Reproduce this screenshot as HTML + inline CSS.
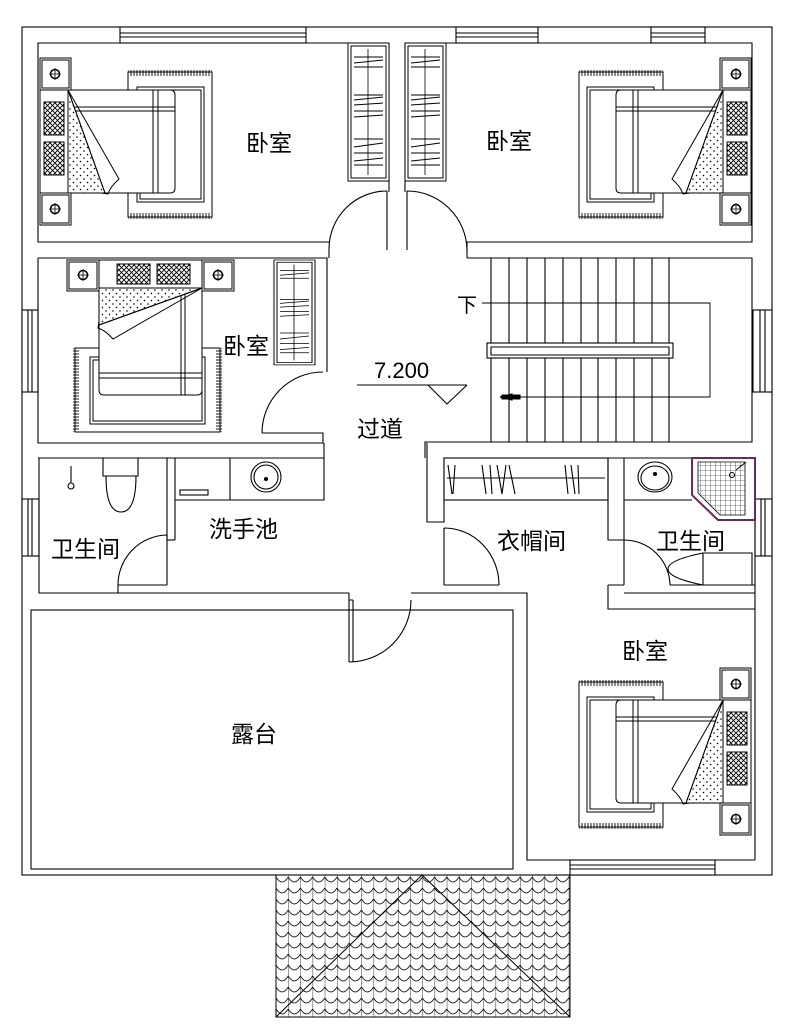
<!DOCTYPE html>
<html><head><meta charset="utf-8"><style>
html,body{margin:0;padding:0;background:#fff;}
svg{display:block;}
text{font-family:"Liberation Sans","Noto Sans CJK SC",sans-serif;fill:#000;}
</style></head><body>
<svg width="789" height="1035" viewBox="0 0 789 1035" xmlns="http://www.w3.org/2000/svg">
<defs>
<pattern id="hatch" width="5" height="5" patternUnits="userSpaceOnUse">
<rect width="5" height="5" fill="#fff"/><path d="M0,0L5,5M5,0L0,5" stroke="#000" stroke-width="0.9"/>
</pattern>
<pattern id="dots" width="7" height="7" patternUnits="userSpaceOnUse">
<circle cx="2" cy="2" r="0.8" fill="#000"/><circle cx="5.5" cy="5.5" r="0.8" fill="#000"/>
</pattern>
<pattern id="fringe" width="3" height="6" patternUnits="userSpaceOnUse">
<path d="M1,0V6" stroke="#000" stroke-width="0.9"/>
</pattern>
<pattern id="tiles" x="276" y="875" width="12.2" height="11" patternUnits="userSpaceOnUse">
<path d="M0,0V11M0,2Q6.1,12 12.2,2" stroke="#000" stroke-width="0.8" fill="none"/>
</pattern>
<pattern id="grid" width="5" height="5" patternUnits="userSpaceOnUse">
<path d="M0,0H5M0,0V5" stroke="#000" stroke-width="0.6"/>
</pattern>
<g id="ns">
<rect x="0" y="0" width="31" height="32" fill="#fff" stroke="#000"/>
<rect x="2" y="2" width="27" height="28" fill="none" stroke="#000"/>
<circle cx="15" cy="16" r="4.5" fill="none" stroke="#000" stroke-width="1.5"/>
<path d="M9,16H21M15,10V22" stroke="#000" stroke-width="0.8"/>
</g>
<g id="bed" stroke="#000" fill="none" stroke-width="1">
<rect x="88" y="14" width="84" height="145" fill="#fff"/>
<rect x="88" y="12" width="84" height="6" fill="url(#fringe)" stroke="none"/>
<rect x="88" y="155" width="84" height="6" fill="url(#fringe)" stroke="none"/>
<rect x="97" y="29" width="67" height="115"/>
<rect x="100" y="32" width="61" height="109"/>
<path d="M28,32H130Q135,32 135,37V130Q135,135 130,135H28Z" fill="#fff"/>
<path d="M28,49H135M28,53H135M113,32V135M118,32V135"/>
<path d="M28,32L65,135H28Z" fill="#fff"/>
<path d="M28,32L65,135H28Z" fill="url(#dots)" stroke="none"/>
<path d="M28,32L79,121Q70,129 68,136L61,135"/>
<path d="M28,32L65,135"/>
<use href="#ns"/>
<use href="#ns" y="135"/>
<rect x="0" y="32" width="28" height="103" fill="#fff"/>
<rect x="4" y="44" width="20" height="33" fill="url(#hatch)"/>
<rect x="4" y="84" width="20" height="33" fill="url(#hatch)"/>
</g>
<g id="ward" stroke="#000" fill="none">
<rect x="0" y="0" width="41" height="138" fill="#fff"/>
<rect x="3" y="3" width="35" height="132"/>
<path d="M20,6V132" stroke-width="0.8"/>
<path d="M6,14H35M6,20L35,17M6,24H35M6,52H35M6,57L35,54M6,62L35,60M6,68H35M6,74L35,72M6,96H35M6,104L35,100M6,110H35M6,118L35,115M6,122H35"/>
</g>
</defs>

<g stroke="#000" stroke-width="1.1" fill="none">
<rect x="22" y="27" width="750" height="848"/>
<rect x="120" y="27" width="186" height="16" fill="#fff"/><path d="M120,33H306M120,37H306"/>
<rect x="456" y="27" width="82" height="16" fill="#fff"/><path d="M456,33H538M456,37H538"/>
<rect x="651" y="27" width="54" height="16" fill="#fff"/><path d="M651,33H705M651,37H705"/>
<rect x="22" y="310" width="16" height="82" fill="#fff"/><path d="M28,310V392M32,310V392"/>
<rect x="753" y="310" width="19" height="82" fill="#fff"/><path d="M760,310V392M765,310V392"/>
<rect x="22" y="499" width="17" height="57" fill="#fff"/><path d="M28,499V556M32,499V556"/>
<rect x="755" y="499" width="17" height="57" fill="#fff"/><path d="M761,499V556M765,499V556"/>
<rect x="570" y="860" width="145" height="15" fill="#fff"/><path d="M570,865H715M570,869H715"/>

<path d="M389,43H38V242H329"/>
<path d="M38,258H327V372"/>
<path d="M389,43V192M405,43V192"/>
<path d="M387,191V250M387,191A58,58 0 0 0 329,249M329,249V258"/>
<path d="M405,43H752V242H467V258"/>
<path d="M407,191V250M407,191A60,60 0 0 1 467,250"/>
<path d="M38,258V443H323V433H262"/>
<path d="M323,372A61,61 0 0 0 262,433"/>
<path d="M38,258H315"/>
<path d="M467,258H752V442H425V458"/>
<path d="M491,258V442M509,258V343M527,258V343M545,258V343M563,258V343M581,258V343M598,258V343M616,258V343M634,258V343M652,258V343M669,258V343"/>
<path d="M509,358V442M527,358V442M545,358V442M563,358V442M581,358V442M598,358V442M616,358V442M634,358V442M652,358V442M669,358V442"/>
<rect x="487" y="343" width="186" height="15" fill="#fff"/>
<path d="M491,347H669V355H491Z"/>
<path d="M482,303H710V397H500" stroke-width="0.9"/>
<path d="M500,397L512,394V400Z" fill="#000"/><path d="M502,395H520V399H502Z" fill="#000"/>
<path d="M357,385H467M428,385L447,404L467,385"/>
<path d="M38,458H324V443"/>
<path d="M39,458V593H349"/>
<path d="M167,458V540M167,585H118V593"/>
<path d="M167,535V585M167,535A50,50 0 0 0 118,585"/>
<path d="M175,458V540"/>
<path d="M175,458H324V500H175"/>
<path d="M175,540H167"/>
<rect x="180" y="490" width="28" height="5"/>
<path d="M230,458V500"/>
<circle cx="266" cy="477" r="15"/><circle cx="266" cy="477" r="12"/>
<circle cx="266" cy="479" r="1.5" fill="#000"/>
<path d="M103,458V476H138V458"/>
<path d="M106,476Q106,512 121,512Q136,512 136,476Z"/>
<circle cx="71" cy="486" r="3"/><path d="M71,466V483"/>
<path d="M349,593V662M353,600V662M349,600H353"/>
<path d="M349,662A62,62 0 0 0 411,600"/>
<path d="M411,593H527V860H755"/>
<rect x="31" y="610" width="482" height="259"/>
<path d="M427,443V522H444V458H755"/>
<path d="M444,528V585M444,528A55,57 0 0 1 499,585M444,585H499"/>
<rect x="444" y="458" width="164" height="42" fill="#fff"/>
<path d="M447,478H605"/>
<path d="M448,465L452,494M455,465L453,494M482,465L486,494M490,465L492,494M497,465L502,494M506,465L502,494M509,465L515,494M565,465L568,494M571,465L575,494M578,465L579,494"/>
<path d="M608,458V540H624V458"/>
<path d="M624,540V585M624,540A46,46 0 0 1 670,585"/>
<path d="M608,585V609H755M608,585H624M670,585H755M624,593H755M755,458V860"/>
<path d="M624,500H692"/>
<ellipse cx="655" cy="477" rx="17" ry="15"/><ellipse cx="655" cy="478" rx="14" ry="12"/>
<circle cx="655" cy="474" r="1.5" fill="#000"/>
<path d="M703,553V585H752V553Z" fill="#fff"/>
<path d="M703,553Q668,560 668,569Q668,578 703,585"/>
</g>
<path d="M692,458H755V520H718L692,495Z" fill="#fff" stroke="#6b2a5e" stroke-width="2"/>
<path d="M698,462H745V515H720L698,493Z" fill="url(#grid)" stroke="#000" stroke-width="0.8"/>
<circle cx="732" cy="475" r="2.5" fill="none" stroke="#000"/><path d="M736,470L746,462" stroke="#000"/>

<use href="#ward" x="348" y="43"/>
<use href="#ward" x="405" y="43"/>
<g transform="translate(274,260) scale(1,0.76)"><use href="#ward"/></g>

<use href="#bed" x="40" y="58"/>
<use href="#bed" transform="translate(751,58) scale(-1,1)"/>
<use href="#bed" transform="translate(751,668) scale(-1,1)"/>
<use href="#bed" transform="matrix(0,1,-1,0,234,260)"/>

<rect x="276" y="875" width="294" height="142" fill="url(#tiles)" stroke="#000"/>
<path d="M276,1017L422,875L570,1017" stroke="#000" fill="none"/>

<g font-size="23">
<text x="246" y="151">卧室</text>
<text x="486" y="149">卧室</text>
<text x="223" y="354">卧室</text>
<text x="622" y="659">卧室</text>
<text x="357" y="437">过道</text>
<text x="51" y="557">卫生间</text>
<text x="209" y="537">洗手池</text>
<text x="497" y="549">衣帽间</text>
<text x="656" y="549">卫生间</text>
<text x="231" y="742">露台</text>
<text x="457" y="312" font-size="20">下</text>
</g>
<text x="374" y="378" font-size="22">7.200</text>
</svg>
</body></html>
